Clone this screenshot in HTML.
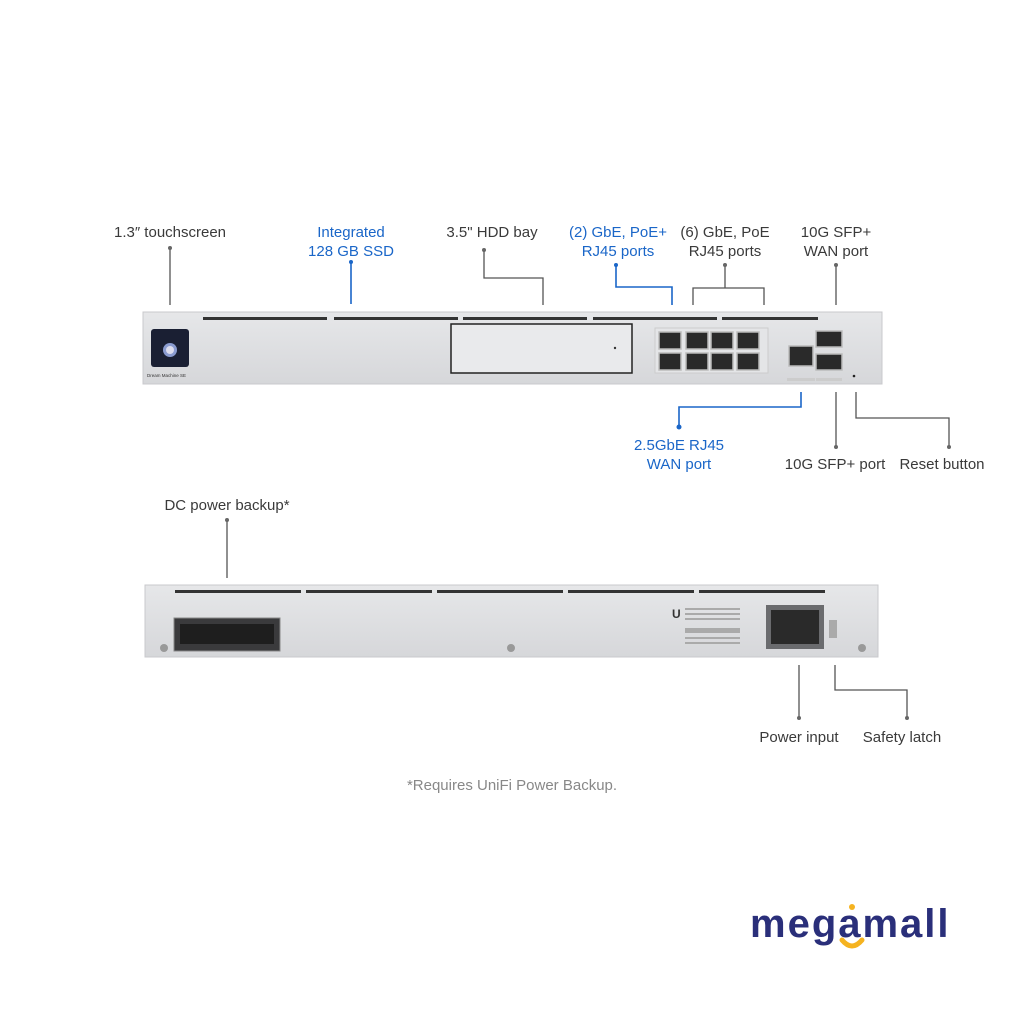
<!DOCTYPE html>
<html><head><meta charset="utf-8"><style>
body{margin:0;width:1024px;height:1024px;background:#fff;overflow:hidden;position:relative;font-family:"Liberation Sans",sans-serif}
.t{position:absolute;font-size:15px;color:#3a3a3a;text-align:center;line-height:19px;white-space:nowrap;transform:translateX(-50%)}
.b{color:#1a66c8}
</style></head><body>
<svg width="1024" height="1024" style="position:absolute;left:0;top:0">
<defs><linearGradient id="g" x1="0" y1="0" x2="0" y2="1"><stop offset="0" stop-color="#e6e7e9"/><stop offset="1" stop-color="#d6d7da"/></linearGradient></defs>
<g fill="none" stroke="#555" stroke-width="1.3">
<path d="M170 248V305"/><path d="M484 250V278H543V305"/>
<path d="M725 265V288M693 305V288H764V305"/><path d="M836 265V305"/>
<path d="M836 392V447"/><path d="M856 392V418H949V447"/>
<path d="M227 520V578"/><path d="M799 665V718"/><path d="M835 665V690H907V718"/>
</g>
<g fill="none" stroke="#1a66c8" stroke-width="1.6">
<path d="M351 262V304"/><path d="M616 265V287H672V305"/><path d="M801 392V407H679V427"/>
</g>
<g fill="#666"><circle cx="170" cy="248" r="2"/><circle cx="484" cy="250" r="2"/><circle cx="725" cy="265" r="2"/><circle cx="836" cy="265" r="2"/><circle cx="836" cy="447" r="2"/><circle cx="949" cy="447" r="2"/><circle cx="227" cy="520" r="2"/><circle cx="799" cy="718" r="2"/><circle cx="907" cy="718" r="2"/></g>
<g fill="#1a66c8"><circle cx="351" cy="262" r="2"/><circle cx="616" cy="265" r="2"/><circle cx="679" cy="427" r="2.5"/></g>
<!-- front -->
<rect x="143" y="312" width="739" height="72" fill="url(#g)" stroke="#c8c9cc"/>
<g fill="#333"><rect x="203" y="317" width="124" height="3"/><rect x="334" y="317" width="124" height="3"/><rect x="463" y="317" width="124" height="3"/><rect x="593" y="317" width="124" height="3"/><rect x="722" y="317" width="96" height="3"/></g>
<rect x="151" y="329" width="38" height="38" rx="3" fill="#1a1f33"/><circle cx="170" cy="350" r="7" fill="#8a9bd0"/><circle cx="170" cy="350" r="4" fill="#dde"/>
<text x="147" y="377" font-size="4.5" fill="#333">Dream Machine SE</text>
<rect x="451" y="324" width="181" height="49" fill="#e9eaec" stroke="#222" stroke-width="1.5"/><circle cx="615" cy="348" r="1.2" fill="#333"/>
<rect x="655" y="328" width="113" height="45" fill="#e4e5e7" stroke="#ccc"/>
<g fill="#2a2a2a" stroke="#bbb" stroke-width="1.5">
<rect x="659" y="332" width="22" height="17"/><rect x="686" y="332" width="22" height="17"/><rect x="711" y="332" width="22" height="17"/><rect x="737" y="332" width="22" height="17"/>
<rect x="659" y="353" width="22" height="17"/><rect x="686" y="353" width="22" height="17"/><rect x="711" y="353" width="22" height="17"/><rect x="737" y="353" width="22" height="17"/>
<rect x="789" y="346" width="24" height="20"/><rect x="816" y="331" width="26" height="16"/><rect x="816" y="354" width="26" height="16"/>
</g>
<rect x="787" y="378" width="28" height="3" fill="#ccc"/><rect x="816" y="378" width="26" height="3" fill="#ccc"/>
<circle cx="854" cy="376" r="1.3" fill="#222"/>
<!-- rear -->
<rect x="145" y="585" width="733" height="72" fill="url(#g)" stroke="#c8c9cc"/>
<g fill="#333"><rect x="175" y="590" width="126" height="3"/><rect x="306" y="590" width="126" height="3"/><rect x="437" y="590" width="126" height="3"/><rect x="568" y="590" width="126" height="3"/><rect x="699" y="590" width="126" height="3"/></g>
<rect x="174" y="618" width="106" height="33" fill="#3a3a3c" stroke="#888"/><rect x="180" y="624" width="94" height="20" fill="#1e1e1e"/>
<rect x="766" y="605" width="58" height="44" fill="#6a6b6e"/><rect x="771" y="610" width="48" height="34" fill="#2a2a2a"/>
<rect x="829" y="620" width="8" height="18" fill="#aaa"/>
<g fill="#999"><circle cx="164" cy="648" r="4"/><circle cx="511" cy="648" r="4"/><circle cx="862" cy="648" r="4"/></g>
<text x="672" y="618" font-size="12" font-weight="bold" fill="#333">U</text>
<g fill="#aaa"><rect x="685" y="608" width="55" height="2"/><rect x="685" y="613" width="55" height="2"/><rect x="685" y="618" width="55" height="2"/><rect x="685" y="628" width="55" height="5"/><rect x="685" y="637" width="55" height="2"/><rect x="685" y="642" width="55" height="2"/></g>
<path d="M842 940 Q852 952 862 940" fill="none" stroke="#f5b320" stroke-width="5" stroke-linecap="round"/>
<circle cx="852" cy="907" r="3" fill="#f5b320"/>
</svg>
<div class="t" style="left:170px;top:223px">1.3″ touchscreen</div>
<div class="t b" style="left:351px;top:223px">Integrated<br>128 GB SSD</div>
<div class="t" style="left:492px;top:223px">3.5" HDD bay</div>
<div class="t b" style="left:618px;top:223px">(2) GbE, PoE+<br>RJ45 ports</div>
<div class="t" style="left:725px;top:223px">(6) GbE, PoE<br>RJ45 ports</div>
<div class="t" style="left:836px;top:223px">10G SFP+<br>WAN port</div>
<div class="t b" style="left:679px;top:436px">2.5GbE RJ45<br>WAN port</div>
<div class="t" style="left:835px;top:455px">10G SFP+ port</div>
<div class="t" style="left:942px;top:455px">Reset button</div>
<div class="t" style="left:227px;top:496px">DC power backup*</div>
<div class="t" style="left:799px;top:728px">Power input</div>
<div class="t" style="left:902px;top:728px">Safety latch</div>
<div class="t" style="left:512px;top:776px;color:#888">*Requires UniFi Power Backup.</div>
<div style="position:absolute;left:750px;top:902px;font-size:40px;font-weight:bold;color:#2a2f7a;line-height:44px;letter-spacing:2px">megamall</div>
</body></html>
